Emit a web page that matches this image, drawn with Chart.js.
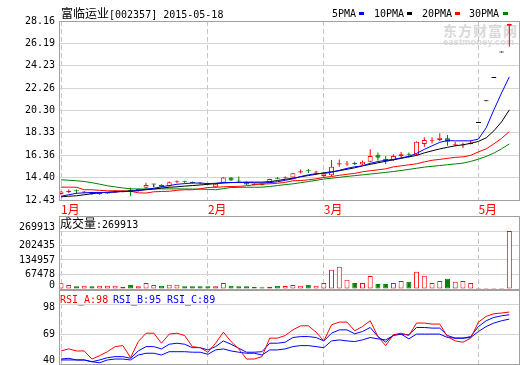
<!DOCTYPE html>
<html>
<head>
<meta charset="utf-8">
<script src="https://cdn.jsdelivr.net/npm/chart.js@4.4.0/dist/chart.umd.min.js"></script>
<style>
html, body { margin: 0; padding: 0; width: 520px; height: 365px; overflow: hidden; background: #fff; }
canvas { position: absolute; left: 0; top: 0; }
.t { position: absolute; white-space: pre; font-family: "DejaVu Sans Mono", monospace; font-size: 10px; line-height: 14px; color: #000; }
.cjk { font-family: "Noto Sans CJK SC", sans-serif; font-size: 12px; }
.box { position: absolute; border: 1px solid #a0a0a0; box-sizing: border-box; pointer-events: none; }
.sw { position: absolute; width: 5px; height: 3px; top: 12px; }
.wm { position: absolute; color: #d9d9d9; font-weight: bold; white-space: pre; }
</style>
</head>
<body>
<div class="wm" style="left:443px;top:22px;font-family:'Noto Sans CJK SC';font-size:14px;line-height:16px;letter-spacing:1px;">东方财富网</div>
<div class="wm" style="left:443px;top:37px;font-family:'Liberation Sans';font-size:9px;line-height:10px;letter-spacing:0.3px;">eastmoney.com</div>

<canvas id="main" width="520" height="400"></canvas>
<canvas id="vol" width="520" height="400"></canvas>
<canvas id="rsi" width="520" height="400"></canvas>

<div class="box" style="left:59px;top:21px;width:461px;height:180px;"></div>
<div class="box" style="left:59px;top:216px;width:461px;height:75px;"></div>
<div class="box" style="left:59px;top:289px;width:461px;height:76px;"></div>

<div class="t" style="left:61px;top:6px;"><span class="cjk">富临运业</span>[002357] 2015-05-18</div>
<div class="t" style="left:332px;top:7px;">5PMA</div><div class="sw" style="left:359px;background:#0000ff;"></div>
<div class="t" style="left:374px;top:7px;">10PMA</div><div class="sw" style="left:407px;background:#000;"></div>
<div class="t" style="left:422px;top:7px;">20PMA</div><div class="sw" style="left:455px;background:#ff0000;"></div>
<div class="t" style="left:469px;top:7px;">30PMA</div><div class="sw" style="left:503px;background:#008000;"></div>

<div class="t" style="left:60px;top:216px;"><span class="cjk">成交量</span>:269913</div>
<div class="t" style="left:60px;top:293px;color:#ff0000;">RSI_A:98</div>
<div class="t" style="left:113px;top:293px;color:#0000ff;">RSI_B:95</div>
<div class="t" style="left:167px;top:293px;color:#0000ff;">RSI_C:89</div>

<script>
// month starts (candle index) and their labels
const monthLabels = ['1月', '2月', '3月', '5月'];
const monthStarts = [0, 19, 34, 54];

// daily candles, 2015-01 .. 2015-05-18
const opens = [12.95, 13.12, 13.25, 13.10, 13.12, 12.95, 13.00, 13.10, 13.12, 13.30,
  13.20, 13.50, 13.80, 13.78, 13.65, 14.00, 14.05, 14.00, 13.95, 13.90,
  13.55, 13.95, 14.40, 14.15, 14.00, 13.85, 13.80, 13.95, 14.32, 14.35,
  14.40, 14.85, 15.00, 14.85, 14.55, 14.60, 15.55, 15.55, 15.70, 15.55,
  15.80, 16.40, 16.05, 15.95, 16.30, 16.50, 16.40, 17.35, 17.60, 17.70,
  17.85, 17.25, 17.22, 17.35, 19.20, 21.10, 23.15, 25.40, 27.75];
const highs = [13.20, 13.35, 13.35, 13.22, 13.15, 13.10, 13.12, 13.30, 13.28, 13.50,
  13.45, 13.95, 13.82, 13.82, 14.05, 14.15, 14.12, 14.05, 14.00, 13.95,
  13.90, 14.45, 14.45, 14.50, 14.05, 13.90, 13.85, 14.30, 14.45, 14.50,
  14.80, 15.10, 15.15, 15.00, 14.85, 15.95, 16.00, 15.85, 15.80, 15.90,
  16.90, 16.60, 16.30, 16.45, 16.65, 16.60, 17.60, 17.95, 17.95, 18.30,
  18.15, 17.55, 17.45, 17.65, 19.20, 21.10, 23.15, 25.40, 27.92];
const lows = [12.90, 13.05, 12.98, 13.02, 12.90, 12.90, 12.95, 13.05, 13.08, 12.75,
  13.15, 13.45, 13.55, 13.55, 13.60, 13.90, 13.90, 13.85, 13.80, 13.75,
  13.50, 13.90, 14.10, 13.95, 13.75, 13.70, 13.70, 13.90, 14.25, 14.30,
  14.35, 14.75, 14.80, 14.75, 14.45, 14.55, 15.35, 15.45, 15.50, 15.50,
  15.75, 15.90, 15.60, 15.85, 16.10, 16.15, 16.35, 17.10, 17.40, 17.60,
  17.20, 17.15, 17.00, 17.30, 19.20, 21.10, 23.15, 25.40, 25.90];
const closes = [13.17, 13.25, 13.20, 13.15, 12.95, 13.05, 13.08, 13.20, 13.20, 13.20,
  13.40, 13.75, 13.80, 13.60, 13.98, 14.05, 14.00, 13.92, 13.88, 13.80,
  13.85, 14.40, 14.15, 14.05, 13.80, 13.75, 13.75, 14.27, 14.30, 14.42,
  14.77, 14.95, 14.95, 14.92, 14.75, 15.35, 15.65, 15.62, 15.58, 15.80,
  16.30, 16.15, 15.85, 16.30, 16.45, 16.40, 17.55, 17.70, 17.68, 17.90,
  17.55, 17.32, 17.30, 17.48, 19.20, 21.10, 23.15, 25.40, 27.90];
const volumes = [26500, 18600, 12600, 15400, 12600, 15400, 15400, 15400, 10700, 20000,
  12600, 27900, 18600, 15400, 20000, 20000, 12600, 12600, 12600, 12600,
  12600, 27900, 15400, 12600, 12600, 9300, 7900, 10700, 15400, 14000,
  18600, 15400, 20000, 15400, 27900, 89800, 103800, 43300, 27900, 27900,
  60500, 23300, 23300, 27900, 37200, 34000, 80500, 61900, 27900, 37200,
  47900, 34000, 37200, 27900, 3000, 2500, 2500, 3000, 269913];

// moving averages
const ma5 = [12.76, 12.89, 13.02, 13.06, 13.09, 13.09, 13.09, 13.13, 13.18, 13.19,
  13.26, 13.37, 13.46, 13.59, 13.70, 13.81, 13.87, 13.92, 13.92, 13.87,
  13.90, 13.97, 13.97, 13.97, 13.97, 13.94, 13.92, 13.96, 14.03, 14.16,
  14.29, 14.49, 14.64, 14.75, 14.77, 14.86, 15.04, 15.21, 15.35, 15.43,
  15.65, 15.81, 15.92, 16.00, 16.13, 16.27, 16.53, 16.88, 17.19, 17.50,
  17.65, 17.63, 17.63, 17.63, 17.78, 18.77, 20.35, 21.84, 23.25];
const ma10 = [12.71, 12.76, 12.80, 12.89, 12.98, 13.06, 13.11, 13.15, 13.18, 13.22,
  13.26, 13.33, 13.39, 13.48, 13.55, 13.59, 13.65, 13.70, 13.75, 13.81,
  13.87, 13.92, 13.96, 13.98, 14.00, 14.00, 14.00, 14.04, 14.14, 14.25,
  14.34, 14.47, 14.58, 14.69, 14.82, 14.91, 15.00, 15.13, 15.26, 15.43,
  15.56, 15.70, 15.83, 15.96, 16.09, 16.22, 16.35, 16.57, 16.75, 16.92,
  17.06, 17.19, 17.28, 17.41, 17.58, 17.89, 18.51, 19.30, 20.35];
const ma20 = [13.56, 13.56, 13.55, 13.33, 13.33, 13.28, 13.24, 13.24, 13.24, 13.20,
  13.06, 13.04, 13.15, 13.18, 13.20, 13.28, 13.33, 13.33, 13.41, 13.53,
  13.55, 13.59, 13.62, 13.63, 13.68, 13.77, 13.83, 13.85, 13.90, 13.98,
  14.12, 14.14, 14.20, 14.29, 14.41, 14.49, 14.60, 14.69, 14.77, 14.91,
  15.00, 15.08, 15.17, 15.34, 15.43, 15.52, 15.61, 15.78, 15.92, 16.00,
  16.09, 16.18, 16.22, 16.35, 16.66, 16.92, 17.36, 17.85, 18.44];
const ma30 = [14.20, 14.17, 14.12, 14.06, 13.95, 13.82, 13.68, 13.58, 13.49, 13.41,
  13.40, 13.40, 13.41, 13.41, 13.41, 13.41, 13.40, 13.39, 13.38, 13.37,
  13.33, 13.43, 13.53, 13.54, 13.55, 13.55, 13.56, 13.62, 13.70, 13.78,
  13.85, 13.95, 14.05, 14.16, 14.27, 14.34, 14.42, 14.50, 14.57, 14.64,
  14.71, 14.78, 14.86, 14.93, 15.02, 15.12, 15.22, 15.32, 15.39, 15.46,
  15.53, 15.60, 15.67, 15.82, 16.02, 16.26, 16.55, 16.93, 17.36];

// RSI
const rsiA = [52.6, 54.6, 52.6, 52.6, 44.8, 48.1, 51.9, 56.8, 57.8, 46.1,
  61.7, 69.8, 69.8, 60.1, 68.9, 69.8, 67.5, 56.8, 55.8, 51.4,
  60.1, 70.8, 61.7, 54.6, 44.8, 44.8, 47.1, 65.0, 65.0, 67.5,
  73.0, 76.9, 76.9, 70.8, 62.3, 77.9, 80.5, 80.5, 72.1, 76.2,
  81.8, 66.5, 57.8, 68.2, 69.8, 67.5, 79.6, 79.6, 78.6, 78.6,
  66.5, 62.3, 61.1, 65.0, 80.5, 86.0, 88.6, 89.3, 90.2];
const rsiB = [44.8, 45.5, 43.9, 43.9, 42.2, 43.9, 46.1, 47.1, 47.1, 45.5,
  52.6, 56.8, 56.8, 54.6, 59.1, 60.1, 59.1, 55.8, 55.8, 53.6,
  56.8, 62.3, 59.1, 55.2, 51.4, 51.4, 51.9, 60.1, 60.1, 61.1,
  65.6, 66.5, 66.5, 65.6, 62.3, 69.8, 73.0, 73.0, 69.2, 71.4,
  75.3, 66.5, 61.1, 68.2, 68.9, 68.2, 75.3, 75.3, 74.7, 74.7,
  67.5, 65.0, 65.0, 66.5, 76.2, 81.8, 85.0, 86.6, 87.6];
const rsiC = [43.9, 43.9, 43.9, 43.9, 42.2, 41.2, 43.9, 44.8, 44.8, 43.9,
  48.7, 50.4, 50.4, 48.7, 51.9, 51.9, 51.9, 51.4, 51.4, 49.4,
  53.6, 54.6, 52.6, 51.4, 50.4, 50.4, 48.7, 53.6, 53.6, 54.6,
  56.8, 57.8, 57.8, 56.8, 55.8, 62.3, 63.3, 62.3, 61.7, 63.3,
  65.6, 64.3, 63.3, 67.5, 68.9, 64.3, 68.9, 68.9, 68.9, 68.9,
  65.6, 65.0, 65.0, 65.6, 71.4, 76.2, 79.6, 81.8, 83.4];

// axis tick values
const priceTicks = [12.43, 14.40, 16.36, 18.33, 20.30, 22.26, 24.23, 26.19, 28.16];
const volTicks = [0, 67478, 134957, 202435, 269913];
const rsiTicks = [40, 69, 98];

const MONO = 'DejaVu Sans Mono';
const UP = '#ff0000', DOWN = '#008000';
const GRID = '#d4d4d4', DASH = '#c4c4c4';
const idx = closes.map((c, i) => i);

function candleColor(i) {
  if (closes[i] > opens[i]) return UP;
  if (closes[i] < opens[i]) return DOWN;
  return '#000000';
}

function xAxis(showLabels) {
  return {
    type: 'linear', min: -0.26, max: 59.25, offset: false,
    afterBuildTicks: s => { s.ticks = monthStarts.map(v => ({ value: v })); },
    afterFit: s => { s.height = showLabels ? 17 : 0; },
    grid: { color: DASH, lineWidth: 1, drawTicks: false, offset: false },
    border: { display: false, dash: [5, 3] },
    ticks: {
      display: showLabels, autoSkip: false, maxRotation: 0, align: 'start', padding: 2,
      color: UP, font: { family: 'Noto Sans CJK SC', size: 12 },
      callback: v => monthLabels[monthStarts.indexOf(v)]
    }
  };
}

function yAxis(min, max, ticks, fmt, lh) {
  return {
    min: min, max: max,
    afterBuildTicks: s => { s.ticks = ticks.map(v => ({ value: v })); },
    afterFit: s => { s.width = 59; },
    grid: { color: GRID, lineWidth: 1, drawTicks: false },
    border: { display: false },
    ticks: { autoSkip: false, padding: 4, color: '#000', font: { family: MONO, size: 10, lineHeight: lh }, callback: fmt }
  };
}

function line(vals, color) {
  return {
    type: 'line', data: vals.map((v, i) => ({ x: i, y: v })),
    borderColor: color, borderWidth: 1, pointRadius: 0, tension: 0, fill: false, order: 0
  };
}

function opts(padTop, padBottom, x, y) {
  return {
    responsive: false, animation: false, devicePixelRatio: 1, events: [],
    layout: { padding: { top: padTop, bottom: padBottom, left: 0, right: 1 } },
    plugins: { legend: { display: false }, tooltip: { enabled: false } },
    scales: { x: x, y: y }
  };
}

new Chart(document.getElementById('main'), {
  type: 'bar',
  data: {
    datasets: [
      line(ma5, '#0000ff'),
      line(ma10, '#000000'),
      line(ma20, '#ff0000'),
      line(ma30, '#008000'),
      {
        type: 'bar', data: idx.map(i => ({ x: i, y: [opens[i], closes[i]] })),
        backgroundColor: idx.map(i => closes[i] > opens[i] ? '#ffffff' : candleColor(i)),
        borderColor: idx.map(candleColor), borderWidth: 1, borderSkipped: false,
        barThickness: 5, minBarLength: 1, grouped: false, inflateAmount: 0, order: 1
      },
      {
        type: 'bar', data: idx.map(i => ({ x: i, y: [lows[i], highs[i]] })),
        backgroundColor: idx.map(candleColor), borderWidth: 0,
        barThickness: 1, minBarLength: 1, grouped: false, inflateAmount: 0, order: 2
      }
    ]
  },
  options: opts(21, 183, xAxis(true), yAxis(12.43, 28.16, priceTicks, v => v.toFixed(2), 1.2))
});

new Chart(document.getElementById('vol'), {
  type: 'bar',
  data: {
    datasets: [{
      data: idx.map(i => ({ x: i, y: volumes[i] })),
      backgroundColor: idx.map(i => closes[i] >= opens[i] ? '#ffffff' : DOWN),
      borderColor: idx.map(i => closes[i] >= opens[i] ? UP : DOWN),
      borderWidth: 1, borderSkipped: false, barThickness: 5, minBarLength: 1,
      grouped: false, inflateAmount: 0
    }]
  },
  options: opts(231, 111, xAxis(false),
    yAxis(0, 269913, volTicks, v => (v === 269913 || v === 0) ? [String(v), ''] : String(v), '8px'))
});

new Chart(document.getElementById('rsi'), {
  type: 'line',
  data: {
    datasets: [
      line(rsiA, '#ff0000'),
      line(rsiB, '#0000ff'),
      line(rsiC, '#0000ff')
    ]
  },
  options: opts(304, 36, xAxis(false),
    yAxis(40, 98, rsiTicks, v => v === 98 ? ['', '98'] : (v === 40 ? ['40', ''] : String(v)), '7px'))
});
</script>
</body>
</html>
